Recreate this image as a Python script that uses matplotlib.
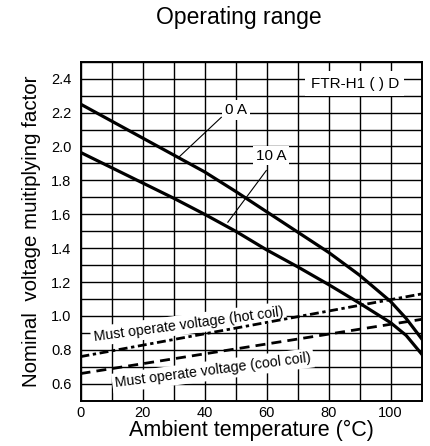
import numpy as np
import matplotlib
matplotlib.use("Agg")
import matplotlib.pyplot as plt
from matplotlib.ticker import MultipleLocator

plt.rcParams['font.family'] = ['Liberation Sans', 'DejaVu Sans']

# curves
temp = [0, 10, 20, 30, 40, 50, 60, 70, 80, 90, 100, 105, 110]
factor_0a = [2.25, 2.15, 2.05, 1.95, 1.85, 1.735, 1.615, 1.495, 1.375, 1.24, 1.085, 0.985, 0.865]
factor_10a = [1.965, 1.875, 1.785, 1.695, 1.60, 1.50, 1.39, 1.29, 1.185, 1.075, 0.96, 0.885, 0.775]

coil_temp = [0, 110]
must_operate_hot = [0.76, 1.13]
must_operate_cool = [0.66, 0.98]

x_ticks = [0, 20, 40, 60, 80, 100]
y_ticks = [0.6, 0.8, 1.0, 1.2, 1.4, 1.6, 1.8, 2.0, 2.2, 2.4]

W, H = 430, 446
fig = plt.figure(figsize=(W / 100, H / 100), dpi=100)
ax = fig.add_axes([80.5 / W, 1 - 400.7 / H, (421.7 - 80.5) / W, (400.7 - 61.7) / H])

ax.set_xlim(0, 110)
ax.set_ylim(0.5, 2.5)
ax.xaxis.set_minor_locator(MultipleLocator(10))
ax.yaxis.set_minor_locator(MultipleLocator(0.1))
ax.set_xticks(x_ticks)
ax.set_yticks(y_ticks)
ax.set_yticklabels([f"{v:.1f}" for v in y_ticks])
ax.tick_params(which='both', length=0, labelsize=10.5)
ax.tick_params(axis='x', pad=3.5)
ax.tick_params(axis='y', pad=6.5)
ax.set_axisbelow(True)
ax.grid(True, which='both', color='black', lw=1.0)
for s in ax.spines.values():
    s.set_linewidth(1.4)
    s.set_color('black')

ax.plot(temp, factor_0a, color='black', lw=2.3, zorder=3)
ax.plot(temp, factor_10a, color='black', lw=2.3, zorder=3)
ax.plot(coil_temp, must_operate_hot, color='black', lw=2.0,
        ls=(0, (3.2, 1.3, 1.2, 1.3)), zorder=3)
ax.plot(coil_temp, must_operate_cool, color='black', lw=2.0,
        ls=(0, (3.6, 2.2)), zorder=3)

box = dict(facecolor='white', edgecolor='none', pad=2)

# leader lines for the current labels
ax.plot([31.9, 45.4], [1.94, 2.172], color='black', lw=0.8, zorder=3)
ax.plot([59.9, 47.5], [1.858, 1.553], color='black', lw=0.8, zorder=3)

ax.text(50.1, 2.216, "0 A", fontsize=11, ha='center', va='center', bbox=box, zorder=1.5)
ax.text(61.5, 1.946, "10 A", fontsize=11, ha='center', va='center', bbox=box, zorder=1.5)
ax.text(88.4, 2.369, "FTR-H1 ( ) D", fontsize=11, ha='center', va='center',
        bbox=dict(facecolor='white', edgecolor='none', pad=4), zorder=1.5)
ax.text(34.8, 0.952, "Must operate voltage (hot coil)", fontsize=10.2, rotation=7.6,
        ha='center', va='center', rotation_mode='anchor', bbox=box, zorder=1.5)
ax.text(42.7, 0.678, "Must operate voltage (cool coil)", fontsize=10.2, rotation=7.4,
        ha='center', va='center', rotation_mode='anchor', bbox=box, zorder=1.5)

ax.set_xlabel("Ambient temperature (°C)", fontsize=15.5, labelpad=0)
ax.set_ylabel("Nominal  voltage muitiplying factor", fontsize=14.8, labelpad=7)
fig.text(239 / W, 1 - 17.5 / H, "Operating range", fontsize=16.5, ha='center', va='center')

fig.savefig("out.png", dpi=100)
